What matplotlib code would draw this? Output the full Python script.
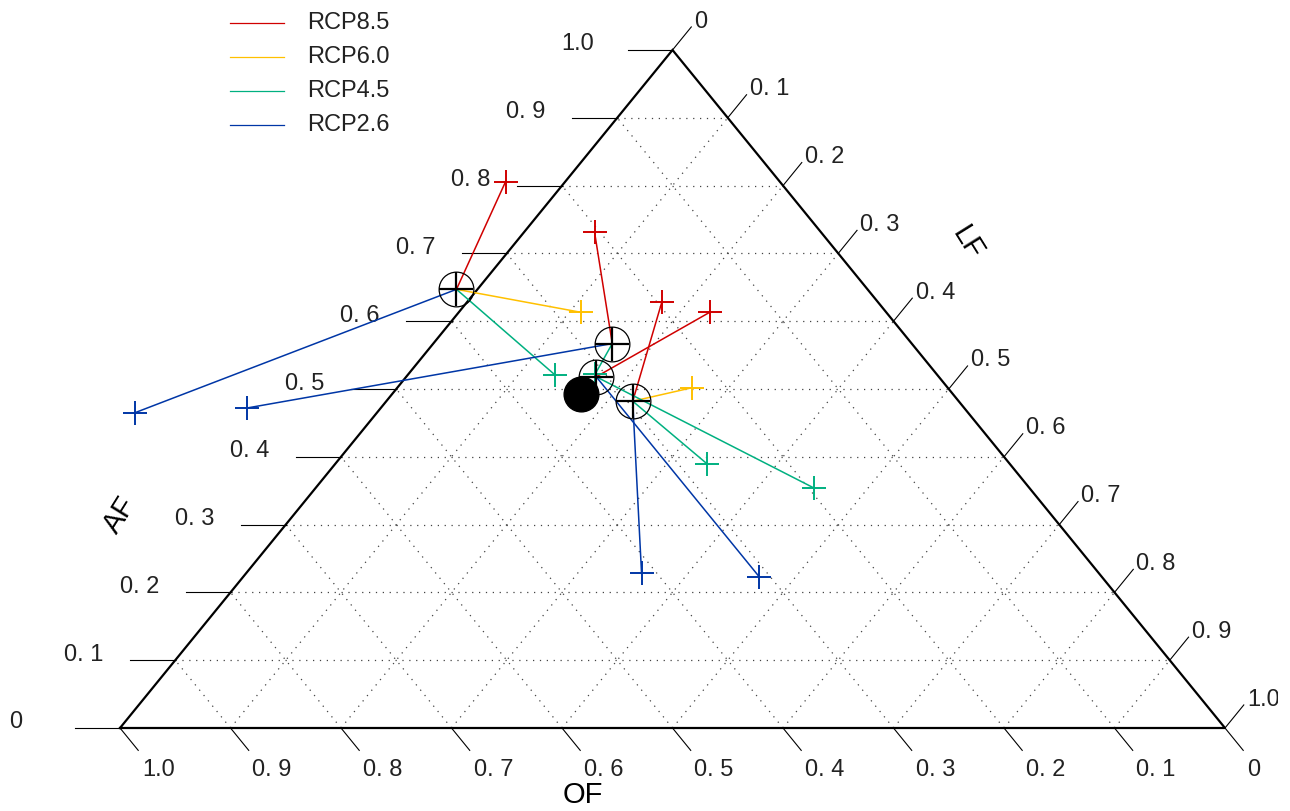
import matplotlib
matplotlib.use("Agg")
import matplotlib.pyplot as plt
from matplotlib.transforms import offset_copy

plt.rcParams["font.family"] = ["Liberation Sans", "DejaVu Sans"]

# Ternary composition (AF, LF, OF) of the reference state
ref_af, ref_lf, ref_of = 0.493, 0.171, 0.336

# Historical states (circled crosses)
hist_af = [0.647, 0.567, 0.518, 0.482]
hist_lf = [-0.019, 0.162, 0.172, 0.223]
hist_of = [0.372, 0.271, 0.310, 0.295]

# Projected states per scenario, one entry per historical state (None = not shown)
scenarios = ["RCP8.5", "RCP6.0", "RCP4.5", "RCP2.6"]
colors = ["#D00000", "#FFC000", "#00B080", "#0036A6"]
proj_af = {
    "RCP8.5": [0.806, 0.731, 0.613, 0.629],
    "RCP6.0": [0.613, None, None, 0.502],
    "RCP4.5": [0.521, 0.522, 0.354, 0.390],
    "RCP2.6": [0.465, 0.472, 0.223, 0.228],
}
proj_lf = {
    "RCP8.5": [-0.054, 0.064, 0.227, 0.176],
    "RCP6.0": [0.111, None, None, 0.267],
    "RCP4.5": [0.133, 0.169, 0.451, 0.336],
    "RCP2.6": [-0.219, -0.121, 0.467, 0.358],
}
proj_of = {
    "RCP8.5": [0.248, 0.205, 0.160, 0.195],
    "RCP6.0": [0.276, None, None, 0.231],
    "RCP4.5": [0.346, 0.309, 0.195, 0.274],
    "RCP2.6": [0.754, 0.649, 0.310, 0.414],
}

ticks = [i / 10 for i in range(11)]
tick_text = ["0", "0. 1", "0. 2", "0. 3", "0. 4", "0. 5", "0. 6", "0. 7", "0. 8", "0. 9", "1.0"]


def to_xy(af, lf):
    return lf + af / 2.0, af


W, H = 1290, 811
W_plot = 1278  # drawing region ends a little before the right border
fig = plt.figure(figsize=(W / 100, H / 100), dpi=100)
ax = fig.add_axes([0, 0, W_plot / W, 1])
ax.set_axis_off()
# Unit triangle: (0,0) OF corner, (1,0) LF corner, (0.5,1) AF corner
sx, sy = 1105.0, 678.0
x0, y0 = 120.0, 83.0
ax.set_xlim(-x0 / sx, (W_plot - x0) / sx)
ax.set_ylim(-y0 / sy, (H - y0) / sy)

# Dotted grid
grid_kw = dict(color="#444444", lw=0.9, ls=(0, (1, 4.5)), zorder=1)
for k in ticks[1:-1]:
    ax.plot([k / 2, 1 - k / 2], [k, k], **grid_kw)                 # AF = k
    ax.plot([k, k + (1 - k) / 2], [0, 1 - k], **grid_kw)           # LF = k
    ax.plot([1 - k, (1 - k) / 2], [0, 1 - k], **grid_kw)           # OF = k

# Triangle outline
ax.plot([0, 1, 0.5, 0], [0, 0, 1, 0], color="black", lw=1.6, zorder=2, solid_joinstyle="miter")

tick_kw = dict(color="black", lw=0.8, zorder=2)
fs = 17
lab_kw = dict(fontsize=fs, ha="left", va="center", color="#222222", clip_on=True)
for k, lab in zip(ticks, tick_text):
    # AF ticks on the left side
    bx, by = to_xy(k, 0.0)
    ex = bx - 45 / sx
    ax.plot([bx, ex], [by, by], **tick_kw)
    ax.text(ex, by, lab, transform=offset_copy(ax.transData, fig, x=-66, y=5.5, units="dots"), **lab_kw)
    # OF ticks along the bottom (OF = k at LF = 1 - k)
    bx, by = to_xy(0.0, 1 - k)
    t = 0.033
    ax.plot([bx, bx + t / 2], [by, by - t], **tick_kw)
    ax.text(bx, by, lab, transform=offset_copy(ax.transData, fig, x=22, y=-42.5, units="dots"), **lab_kw)
    # LF ticks on the right side (LF = k at OF = 0)
    bx, by = to_xy(1 - k, k)
    t = 0.034
    ax.plot([bx, bx + t / 2], [by, by + t], **tick_kw)
    ax.text(bx, by, lab, transform=offset_copy(ax.transData, fig, x=22, y=28.5, units="dots"), **lab_kw)

# Axis titles
ax.text(0.0, 0.314, "AF", fontsize=21, rotation=58, ha="center", va="center")
ax.text(0.767, 0.715, "LF", fontsize=21, rotation=-58, ha="center", va="center")
ax.text(0.419, -0.099, "OF", fontsize=21, ha="center", va="center")

# Trajectories from historical to projected states
for sc, col in zip(scenarios, colors):
    for i in range(len(hist_af)):
        af = proj_af[sc][i]
        if af is None:
            continue
        hx, hy = to_xy(hist_af[i], hist_lf[i])
        px, py = to_xy(af, proj_lf[sc][i])
        ax.plot([hx, px], [hy, py], color=col, lw=1.1, zorder=3)
        ax.plot([px], [py], marker="+", ms=17, mew=1.4, color=col, zorder=4, ls="none")

# Historical states
hx = [to_xy(a, l)[0] for a, l in zip(hist_af, hist_lf)]
hy = list(hist_af)
ax.plot(hx, hy, ls="none", marker="o", ms=25, mfc="none", mec="black", mew=0.9, zorder=5)
ax.plot(hx, hy, ls="none", marker="+", ms=25, mec="black", mew=1.6, zorder=5)

# Reference state
rx, ry = to_xy(ref_af, ref_lf)
ax.plot([rx], [ry], ls="none", marker="o", ms=25, color="black", zorder=6)

# Legend
leg_y = [23, 57, 91, 125]
for sc, col, yy in zip(scenarios, colors, leg_y):
    ly = (H - yy - y0) / sy
    ax.plot([(230 - x0) / sx, (284 - x0) / sx], [ly, ly], color=col, lw=0.9)
    ax.text((307 - x0) / sx, ly, sc, fontsize=fs, ha="left", va="center", color="#222222")

fig.savefig("out.png", dpi=100)
